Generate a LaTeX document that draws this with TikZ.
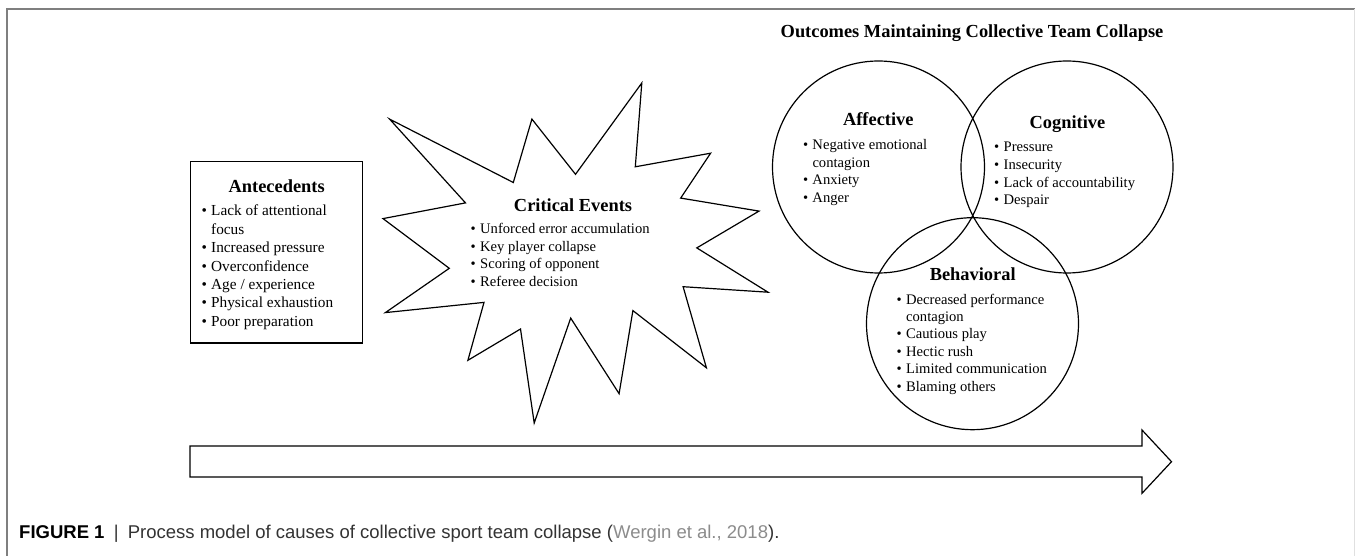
\documentclass[tikz,border=0pt]{standalone}
\usepackage{fontspec}
\setmainfont{Liberation Serif}
\newfontfamily\capfont{Liberation Sans}
\definecolor{capgray}{HTML}{333333}
\definecolor{linkgray}{HTML}{8C8C8C}
\definecolor{framegray}{HTML}{7F7F7F}
\newcommand\bi{\makebox[9.5pt][l]{\textbullet}}
\newcommand\hi{\hspace*{9.5pt}}
\begin{document}
\begin{tikzpicture}[x=1pt,y=-1pt,
  shapeline/.style={draw=black, line width=1.2pt, line join=miter},
  ttl/.style={font=\fontsize{18.4}{22}\selectfont\bfseries, inner sep=0pt, anchor=base},
  itm/.style={font=\fontsize{14.6}{17.5}\selectfont, inner sep=0pt, anchor=base west},
  aitm/.style={font=\fontsize{15.3}{18.4}\selectfont, inner sep=0pt, anchor=base west},
  ring/.style={circle, draw, line width=1.2pt, minimum size=212pt, inner sep=0pt}]
\useasboundingbox (0,0) rectangle (1355,556);
\fill[white] (0,0) rectangle (1355,556);
% frame
\draw[framegray, line width=1.4pt] (7,556) -- (7,9) -- (1355,9);
\draw[black!12, line width=0.8pt] (1354,9) -- (1354,556);

% antecedents box
\node[draw, line width=1.2pt, minimum width=172pt, minimum height=181.3pt, inner sep=0pt] (antbox) at (276.7,252.35) {};
\node[ttl] (antttl) at (276.7,192.5) {Antecedents};
\foreach \t [count=\i] in {{\bi Lack of attentional},{\hi focus},{\bi Increased pressure},{\bi Overconfidence},{\bi Age / experience},{\bi Physical exhaustion},{\bi Poor preparation}}
  \node[aitm] (ant\i) at (201.5, 215.7+18.45*\i-18.45) {\t};

% critical events star (explosion)
\draw[shapeline] (389.6,119.1) -- (513.3,182.5) -- (531.9,119.1) -- (575.5,174.3) -- (641.8,83) -- (635.3,166.8) -- (710.6,153.2) -- (680.7,198.1) -- (759.0,211.1) -- (696.8,247.9) -- (768,292.2) -- (683.1,286.7) -- (706.4,367.8) -- (632.9,310.6) -- (619.1,393.7) -- (570.7,318.1) -- (534.2,423) -- (520.5,329) -- (467.9,360.3) -- (484,302.4) -- (385.4,312.6) -- (449.3,268.3) -- (383,218.6) -- (465.5,202.9) -- cycle;
\node[ttl] (critttl) at (573,212) {Critical Events};
\foreach \t [count=\i] in {{\bi Unforced error accumulation},{\bi Key player collapse},{\bi Scoring of opponent},{\bi Referee decision}}
  \node[itm] (crit\i) at (470.5, 234+17.4*\i-17.4) {\t};

% outcomes
\node[ttl] (outttl) at (972,37.5) {Outcomes Maintaining Collective Team Collapse};
\node[ring] (aff) at (878.5,167) {};
\node[ring] (cog) at (1067,167) {};
\node[ring] (beh) at (972.5,323.7) {};

\node[ttl] (affttl) at (878.3,126) {Affective};
\foreach \t [count=\i] in {{\bi Negative emotional},{\hi contagion},{\bi Anxiety},{\bi Anger}}
  \node[itm] (aff\i) at (802.8, 149.5+17.6*\i-17.6) {\t};

\node[ttl] (cogttl) at (1067.5,129) {Cognitive};
\foreach \t [count=\i] in {{\bi Pressure},{\bi Insecurity},{\bi Lack of accountability},{\bi Despair}}
  \node[itm] (cog\i) at (994, 151.8+17.7*\i-17.7) {\t};

\node[ttl] (behttl) at (972.7,280) {Behavioral};
\foreach \t [count=\i] in {{\bi Decreased performance},{\hi contagion},{\bi Cautious play},{\bi Hectic rush},{\bi Limited communication},{\bi Blaming others}}
  \node[itm] (beh\i) at (896.5, 304+17.4*\i-17.4) {\t};

% process arrow
\draw[shapeline] (190,446) -- (1142,446) -- (1142,430) -- (1171.5,461.7) -- (1142,493.3) -- (1142,477) -- (190,477) -- cycle;

% caption
\node[anchor=base west, inner sep=0pt, font=\capfont\fontsize{18.5}{22}\selectfont] (cap) at (19,538)
  {\textbf{FIGURE 1}\enspace\textcolor{capgray}{|}\enspace\textcolor{capgray}{Process model of causes of collective sport team collapse (}\textcolor{linkgray}{Wergin et al., 2018}\textcolor{capgray}{).}};
\end{tikzpicture}
\end{document}
